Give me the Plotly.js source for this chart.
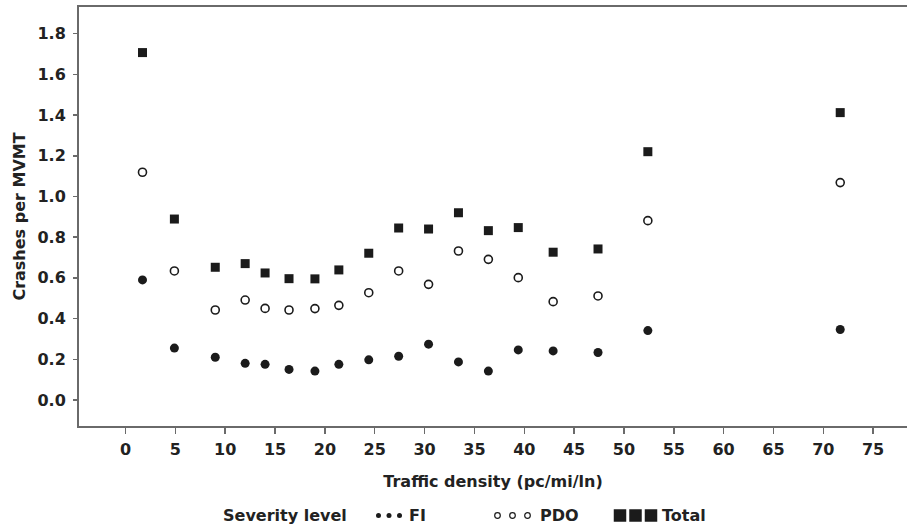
<!DOCTYPE html>
<html>
<head>
<meta charset="utf-8">
<script src="https://cdn.plot.ly/plotly-3.0.1.min.js"></script>
<style>
  html, body { margin: 0; padding: 0; background: #fff; }
  #chart { width: 907px; height: 527px; }
</style>
</head>
<body>
<div id="chart"></div>
<script>
// Crash rates by traffic density, split by severity level
const density = [1.7, 4.9, 9.0, 12.0, 14.0, 16.4, 19.0, 21.4, 24.4, 27.4, 30.4, 33.4, 36.4, 39.4, 42.9, 47.4, 52.4, 71.7];
const fi      = [0.590, 0.255, 0.210, 0.180, 0.175, 0.150, 0.142, 0.175, 0.197, 0.215, 0.274, 0.187, 0.142, 0.246, 0.241, 0.233, 0.341, 0.346];
const pdo     = [1.119, 0.634, 0.442, 0.491, 0.450, 0.442, 0.449, 0.465, 0.527, 0.634, 0.568, 0.732, 0.691, 0.601, 0.483, 0.511, 0.881, 1.068];
const total   = [1.707, 0.889, 0.652, 0.670, 0.624, 0.596, 0.595, 0.639, 0.721, 0.845, 0.840, 0.920, 0.832, 0.847, 0.726, 0.742, 1.220, 1.412];

const xTicks = [0, 5, 10, 15, 20, 25, 30, 35, 40, 45, 50, 55, 60, 65, 70, 75];
const yTicks = [0.0, 0.2, 0.4, 0.6, 0.8, 1.0, 1.2, 1.4, 1.6, 1.8];

const ink = '#1b1b1b';
const axisGray = '#6a6a6a';
const fontFam = '"DejaVu Sans", Verdana, sans-serif';

const W = 907, H = 527;
const M = { l: 79, r: 0, t: 7, b: 101 };
const plotW = W - M.l - M.r, plotH = H - M.t - M.b;
// convert page pixels to paper coordinates for the legend strip
const px = x => (x - M.l) / plotW;
const py = y => (H - M.b - y) / plotH;

const traces = [
  { name: 'FI', x: density, y: fi, type: 'scatter', mode: 'markers',
    marker: { symbol: 'circle', size: 9, color: ink, line: { width: 0 } } },
  { name: 'PDO', x: density, y: pdo, type: 'scatter', mode: 'markers',
    marker: { symbol: 'circle-open', size: 8, color: ink, line: { width: 1.6, color: ink } } },
  { name: 'Total', x: density, y: total, type: 'scatter', mode: 'markers',
    marker: { symbol: 'square', size: 9, color: ink, line: { width: 0 } } }
];

// legend drawn as a row: label, then three sample marks per series
const legY = 515.5;
const shapes = [];
function dot(cx, r, filled) {
  shapes.push({ type: 'circle', xref: 'paper', yref: 'paper',
    xsizemode: 'pixel', ysizemode: 'pixel', xanchor: px(cx), yanchor: py(legY),
    x0: -r, x1: r, y0: -r, y1: r,
    fillcolor: filled ? ink : '#fff', line: { color: ink, width: filled ? 0 : 1.2 } });
}
function box(cx, s) {
  shapes.push({ type: 'rect', xref: 'paper', yref: 'paper',
    xsizemode: 'pixel', ysizemode: 'pixel', xanchor: px(cx), yanchor: py(legY),
    x0: -s / 2, x1: s / 2, y0: -s / 2, y1: s / 2,
    fillcolor: ink, line: { width: 0 } });
}
[378.5, 389, 399.5].forEach(c => dot(c, 2.5, true));
[497.5, 512.5, 527.5].forEach(c => dot(c, 2.8, false));
[620, 635.5, 651].forEach(c => box(c, 12.5));

const legFont = { family: fontFam, size: 16, color: '#222', weight: 'bold' };
const annotations = [
  { text: 'Severity level', xref: 'paper', yref: 'paper', x: px(221), y: py(legY),
    xanchor: 'left', yanchor: 'middle', showarrow: false, font: legFont },
  { text: 'FI', xref: 'paper', yref: 'paper', x: px(407), y: py(legY),
    xanchor: 'left', yanchor: 'middle', showarrow: false, font: legFont },
  { text: 'PDO', xref: 'paper', yref: 'paper', x: px(538), y: py(legY),
    xanchor: 'left', yanchor: 'middle', showarrow: false, font: legFont },
  { text: 'Total', xref: 'paper', yref: 'paper', x: px(660), y: py(legY),
    xanchor: 'left', yanchor: 'middle', showarrow: false, font: legFont }
];

const tickFont = { family: fontFam, size: 16, color: '#222', weight: 'bold' };
const titleFont = { family: fontFam, size: 16, color: '#222', weight: 'bold' };

const layout = {
  width: W, height: H,
  margin: M,
  paper_bgcolor: '#fff', plot_bgcolor: '#fff',
  showlegend: false,
  xaxis: {
    range: [-4.67, 78.4],
    tickvals: xTicks, ticktext: xTicks.map(String),
    ticks: 'outside', ticklen: 6, tickwidth: 1.5, tickcolor: axisGray,
    showline: true, linecolor: axisGray, linewidth: 2, mirror: true,
    showgrid: false, zeroline: false,
    tickfont: tickFont, ticklabelstandoff: 2,
    title: { text: 'Traffic density (pc/mi/ln)', font: titleFont, standoff: 18 }
  },
  yaxis: {
    range: [-0.128, 1.931],
    tickvals: yTicks, ticktext: yTicks.map(v => v.toFixed(1)),
    ticks: 'outside', ticklen: 4, tickwidth: 1.5, tickcolor: axisGray,
    showline: true, linecolor: axisGray, linewidth: 2,
    showgrid: false, zeroline: false,
    tickfont: tickFont, ticklabelstandoff: 4,
    title: { text: 'Crashes per MVMT', font: titleFont, standoff: 8 }
  },
  shapes: shapes,
  annotations: annotations
};

Plotly.newPlot('chart', traces, layout, { displayModeBar: false, staticPlot: true });
</script>
</body>
</html>
